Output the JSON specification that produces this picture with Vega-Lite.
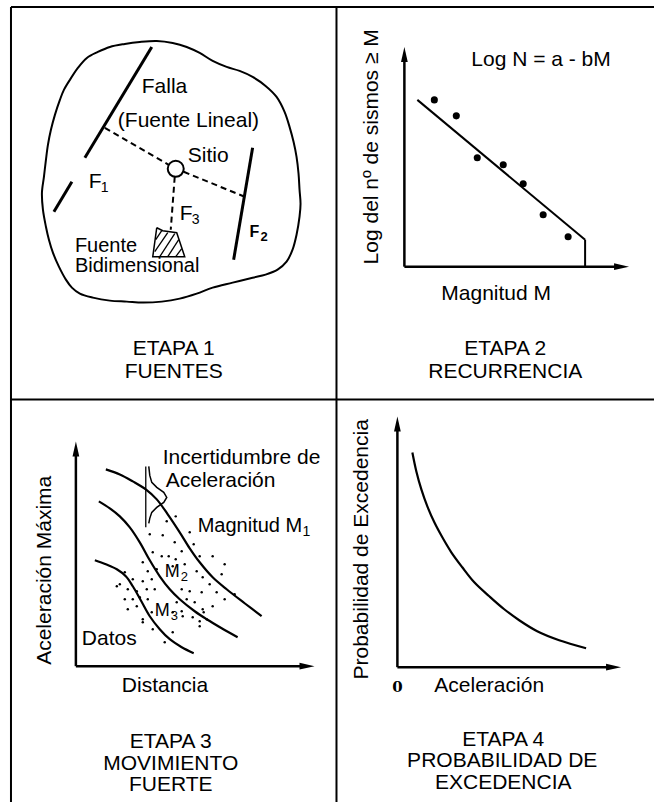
{
  "$schema": "https://vega.github.io/schema/vega-lite/v6.json",
  "width": 655,
  "height": 803,
  "autosize": {"type": "fit", "contains": "padding"},
  "padding": 0,
  "background": "white",
  "config": {"view": {"stroke": null}, "font": "Liberation Sans"},
  "datasets": {
    "frame": [
      {"x": 11, "y": 7, "x2": 655, "y2": 7},
      {"x": 11, "y": 7, "x2": 11, "y2": 803},
      {"x": 337, "y": 7, "x2": 337, "y2": 803},
      {"x": 11, "y": 400, "x2": 655, "y2": 400}
    ],
    "axes": [
      {"x": 405, "y": 267, "x2": 405, "y2": 56},
      {"x": 405, "y": 267, "x2": 621, "y2": 267},
      {"x": 76, "y": 667, "x2": 76, "y2": 451},
      {"x": 76, "y": 667, "x2": 306, "y2": 667},
      {"x": 398, "y": 668, "x2": 398, "y2": 426},
      {"x": 398, "y": 668, "x2": 613, "y2": 668}
    ],
    "faults": [
      {"x": 152, "y": 47, "x2": 85, "y2": 158},
      {"x": 72, "y": 182, "x2": 54, "y2": 212},
      {"x": 253, "y": 148, "x2": 234, "y2": 260}
    ],
    "dashes": [
      {"x": 105, "y": 128, "x2": 169, "y2": 165},
      {"x": 184, "y": 172, "x2": 245, "y2": 197},
      {"x": 175, "y": 177, "x2": 171, "y2": 230}
    ],
    "thin": [
      {"x": 156, "y": 240, "x2": 162, "y2": 231},
      {"x": 155, "y": 252, "x2": 168, "y2": 233},
      {"x": 160, "y": 257, "x2": 175, "y2": 234},
      {"x": 168, "y": 257, "x2": 179, "y2": 240},
      {"x": 176, "y": 257, "x2": 182, "y2": 249},
      {"x": 146, "y": 467, "x2": 146, "y2": 528}
    ],
    "fit": [
      {"x": 418, "y": 100, "x2": 586, "y2": 240},
      {"x": 586, "y": 240, "x2": 586, "y2": 267}
    ],
    "blob": [
      {"i": 0, "x": 70, "y": 80}, {"i": 1, "x": 78, "y": 68}, {"i": 2, "x": 87, "y": 58},
      {"i": 3, "x": 98, "y": 52}, {"i": 4, "x": 110, "y": 47}, {"i": 5, "x": 125, "y": 44},
      {"i": 6, "x": 140, "y": 42}, {"i": 7, "x": 157, "y": 41}, {"i": 8, "x": 173, "y": 43},
      {"i": 9, "x": 187, "y": 47}, {"i": 10, "x": 200, "y": 53}, {"i": 11, "x": 213, "y": 61},
      {"i": 12, "x": 227, "y": 67}, {"i": 13, "x": 240, "y": 71}, {"i": 14, "x": 253, "y": 77},
      {"i": 15, "x": 266, "y": 86}, {"i": 16, "x": 277, "y": 97}, {"i": 17, "x": 285, "y": 112},
      {"i": 18, "x": 290, "y": 127}, {"i": 19, "x": 294, "y": 142}, {"i": 20, "x": 297, "y": 157},
      {"i": 21, "x": 299, "y": 174}, {"i": 22, "x": 300, "y": 190}, {"i": 23, "x": 301, "y": 204},
      {"i": 24, "x": 300, "y": 217}, {"i": 25, "x": 297, "y": 235}, {"i": 26, "x": 293, "y": 250},
      {"i": 27, "x": 287, "y": 262}, {"i": 28, "x": 278, "y": 270}, {"i": 29, "x": 266, "y": 275},
      {"i": 30, "x": 253, "y": 278}, {"i": 31, "x": 233, "y": 283}, {"i": 32, "x": 213, "y": 288},
      {"i": 33, "x": 197, "y": 294}, {"i": 34, "x": 180, "y": 299}, {"i": 35, "x": 162, "y": 302},
      {"i": 36, "x": 143, "y": 303}, {"i": 37, "x": 127, "y": 302}, {"i": 38, "x": 110, "y": 301},
      {"i": 39, "x": 93, "y": 298}, {"i": 40, "x": 80, "y": 294}, {"i": 41, "x": 72, "y": 288},
      {"i": 42, "x": 66, "y": 280}, {"i": 43, "x": 59, "y": 267}, {"i": 44, "x": 53, "y": 253},
      {"i": 45, "x": 49, "y": 240}, {"i": 46, "x": 46, "y": 227}, {"i": 47, "x": 43, "y": 210},
      {"i": 48, "x": 42, "y": 193}, {"i": 49, "x": 44, "y": 177}, {"i": 50, "x": 46, "y": 160},
      {"i": 51, "x": 48, "y": 145}, {"i": 52, "x": 51, "y": 130}, {"i": 53, "x": 55, "y": 115},
      {"i": 54, "x": 60, "y": 100}, {"i": 55, "x": 64, "y": 90}, {"i": 56, "x": 70, "y": 80}
    ],
    "curves": [
      {"c": "M1", "i": 0, "x": 106, "y": 470}, {"c": "M1", "i": 1, "x": 120, "y": 475},
      {"c": "M1", "i": 2, "x": 133, "y": 482}, {"c": "M1", "i": 3, "x": 146, "y": 490},
      {"c": "M1", "i": 4, "x": 157, "y": 500}, {"c": "M1", "i": 5, "x": 168, "y": 515},
      {"c": "M1", "i": 6, "x": 180, "y": 533}, {"c": "M1", "i": 7, "x": 190, "y": 549},
      {"c": "M1", "i": 8, "x": 200, "y": 563}, {"c": "M1", "i": 9, "x": 213, "y": 578},
      {"c": "M1", "i": 10, "x": 227, "y": 590}, {"c": "M1", "i": 11, "x": 245, "y": 604},
      {"c": "M1", "i": 12, "x": 262, "y": 617},
      {"c": "M2", "i": 0, "x": 99, "y": 502}, {"c": "M2", "i": 1, "x": 110, "y": 509},
      {"c": "M2", "i": 2, "x": 120, "y": 517}, {"c": "M2", "i": 3, "x": 130, "y": 528},
      {"c": "M2", "i": 4, "x": 140, "y": 543}, {"c": "M2", "i": 5, "x": 150, "y": 561},
      {"c": "M2", "i": 6, "x": 160, "y": 577}, {"c": "M2", "i": 7, "x": 170, "y": 590},
      {"c": "M2", "i": 8, "x": 180, "y": 600}, {"c": "M2", "i": 9, "x": 195, "y": 612},
      {"c": "M2", "i": 10, "x": 207, "y": 620}, {"c": "M2", "i": 11, "x": 222, "y": 629},
      {"c": "M2", "i": 12, "x": 238, "y": 638},
      {"c": "M3", "i": 0, "x": 95, "y": 561}, {"c": "M3", "i": 1, "x": 106, "y": 565},
      {"c": "M3", "i": 2, "x": 117, "y": 570}, {"c": "M3", "i": 3, "x": 126, "y": 577},
      {"c": "M3", "i": 4, "x": 133, "y": 587}, {"c": "M3", "i": 5, "x": 141, "y": 601},
      {"c": "M3", "i": 6, "x": 150, "y": 617}, {"c": "M3", "i": 7, "x": 160, "y": 630},
      {"c": "M3", "i": 8, "x": 170, "y": 640}, {"c": "M3", "i": 9, "x": 182, "y": 648},
      {"c": "M3", "i": 10, "x": 194, "y": 654},
      {"c": "P", "i": 0, "x": 413, "y": 453}, {"c": "P", "i": 1, "x": 417, "y": 472},
      {"c": "P", "i": 2, "x": 422, "y": 490}, {"c": "P", "i": 3, "x": 428, "y": 507},
      {"c": "P", "i": 4, "x": 435, "y": 523}, {"c": "P", "i": 5, "x": 443, "y": 538},
      {"c": "P", "i": 6, "x": 452, "y": 553}, {"c": "P", "i": 7, "x": 463, "y": 568},
      {"c": "P", "i": 8, "x": 475, "y": 583}, {"c": "P", "i": 9, "x": 490, "y": 597},
      {"c": "P", "i": 10, "x": 505, "y": 610}, {"c": "P", "i": 11, "x": 520, "y": 621},
      {"c": "P", "i": 12, "x": 538, "y": 632}, {"c": "P", "i": 13, "x": 560, "y": 641},
      {"c": "P", "i": 14, "x": 587, "y": 649}
    ],
    "thincurves": [
      {"c": "bell", "i": 0, "x": 149, "y": 467}, {"c": "bell", "i": 1, "x": 150, "y": 476},
      {"c": "bell", "i": 2, "x": 152, "y": 483}, {"c": "bell", "i": 3, "x": 157, "y": 488},
      {"c": "bell", "i": 4, "x": 164, "y": 493}, {"c": "bell", "i": 5, "x": 167, "y": 498},
      {"c": "bell", "i": 6, "x": 164, "y": 503}, {"c": "bell", "i": 7, "x": 157, "y": 508},
      {"c": "bell", "i": 8, "x": 152, "y": 513}, {"c": "bell", "i": 9, "x": 150, "y": 519},
      {"c": "bell", "i": 10, "x": 149, "y": 524},
      {"c": "trap", "i": 0, "x": 157, "y": 228}, {"c": "trap", "i": 1, "x": 163, "y": 231},
      {"c": "trap", "i": 2, "x": 177, "y": 233}, {"c": "trap", "i": 3, "x": 185, "y": 257},
      {"c": "trap", "i": 4, "x": 153, "y": 257}, {"c": "trap", "i": 5, "x": 157, "y": 228}
    ],
    "arrowsUp": [
      {"x": 405, "y": 54.5}, {"x": 76, "y": 449.5}, {"x": 398, "y": 424.5}
    ],
    "arrowsRight": [
      {"x": 622.5, "y": 267}, {"x": 307.5, "y": 667}, {"x": 614.5, "y": 668}
    ],
    "site": [{"x": 176, "y": 169}],
    "recurrence": [
      {"x": 435, "y": 100}, {"x": 457, "y": 116}, {"x": 478, "y": 158}, {"x": 504, "y": 165},
      {"x": 524, "y": 184}, {"x": 544, "y": 215}, {"x": 569, "y": 237}
    ],
    "scatter": [
      {"x": 176, "y": 517}, {"x": 167, "y": 522}, {"x": 190, "y": 533}, {"x": 150, "y": 535},
      {"x": 163, "y": 536}, {"x": 175, "y": 543}, {"x": 182, "y": 552}, {"x": 194, "y": 545},
      {"x": 153, "y": 553}, {"x": 162, "y": 557}, {"x": 169, "y": 557}, {"x": 176, "y": 560},
      {"x": 200, "y": 557}, {"x": 213, "y": 557}, {"x": 225, "y": 565}, {"x": 143, "y": 563},
      {"x": 148, "y": 572}, {"x": 157, "y": 570}, {"x": 173, "y": 567}, {"x": 185, "y": 565},
      {"x": 197, "y": 572}, {"x": 203, "y": 578}, {"x": 210, "y": 585}, {"x": 222, "y": 575},
      {"x": 152, "y": 580}, {"x": 143, "y": 582}, {"x": 125, "y": 573}, {"x": 133, "y": 580},
      {"x": 120, "y": 585}, {"x": 117, "y": 587}, {"x": 128, "y": 590}, {"x": 137, "y": 592},
      {"x": 147, "y": 590}, {"x": 155, "y": 590}, {"x": 182, "y": 590}, {"x": 190, "y": 592},
      {"x": 202, "y": 593}, {"x": 217, "y": 593}, {"x": 235, "y": 595}, {"x": 125, "y": 600},
      {"x": 133, "y": 600}, {"x": 140, "y": 598}, {"x": 148, "y": 600}, {"x": 177, "y": 603},
      {"x": 187, "y": 600}, {"x": 195, "y": 603}, {"x": 203, "y": 610}, {"x": 213, "y": 607},
      {"x": 225, "y": 600}, {"x": 128, "y": 610}, {"x": 137, "y": 607}, {"x": 143, "y": 620},
      {"x": 152, "y": 613}, {"x": 173, "y": 613}, {"x": 183, "y": 617}, {"x": 193, "y": 618},
      {"x": 200, "y": 622}, {"x": 207, "y": 620}, {"x": 143, "y": 623}, {"x": 153, "y": 630},
      {"x": 173, "y": 633}, {"x": 165, "y": 643}, {"x": 200, "y": 627}, {"x": 182, "y": 612},
      {"x": 204, "y": 613}
    ],
    "labels": [
      {"x": 142, "y": 93, "t": "Falla"},
      {"x": 118, "y": 127, "t": "(Fuente Lineal)"},
      {"x": 188, "y": 162, "t": "Sitio"},
      {"x": 89, "y": 188, "t": "F"},
      {"x": 180, "y": 220, "t": "F"},
      {"x": 472, "y": 66, "t": "Log N = a - bM"},
      {"x": 442, "y": 300, "t": "Magnitud M"},
      {"x": 163, "y": 465, "t": "Incertidumbre de"},
      {"x": 166, "y": 488, "t": "Aceleración"},
      {"x": 82, "y": 646, "t": "Datos"},
      {"x": 122, "y": 693, "t": "Distancia"},
      {"x": 435, "y": 693, "t": "Aceleración"}
    ],
    "labelsSmall": [
      {"x": 198, "y": 533, "t": "Magnitud M"},
      {"x": 75, "y": 252, "t": "Fuente"},
      {"x": 75, "y": 272, "t": "Bidimensional"}
    ],
    "subs": [
      {"x": 101, "y": 192, "t": "1"},
      {"x": 192, "y": 224, "t": "3"},
      {"x": 303, "y": 537, "t": "1"}
    ],
    "mlabels": [
      {"x": 165, "y": 578, "t": "M"},
      {"x": 155, "y": 617, "t": "M"}
    ],
    "msubs": [
      {"x": 181, "y": 582, "t": "2"},
      {"x": 171, "y": 621, "t": "3"}
    ],
    "f2": [{"x": 250, "y": 237, "t": "F"}],
    "f2sub": [{"x": 261, "y": 241, "t": "2"}],
    "zero": [{"x": 398, "y": 693, "t": "0"}],
    "titles": [
      {"x": 174, "y": 355, "t": "ETAPA 1"},
      {"x": 174, "y": 378, "t": "FUENTES"},
      {"x": 506, "y": 355, "t": "ETAPA 2"},
      {"x": 506, "y": 378, "t": "RECURRENCIA"},
      {"x": 171, "y": 749, "t": "ETAPA 3"},
      {"x": 171, "y": 771, "t": "MOVIMIENTO"},
      {"x": 171, "y": 792, "t": "FUERTE"},
      {"x": 504, "y": 747, "t": "ETAPA 4"},
      {"x": 503, "y": 768, "t": "PROBABILIDAD DE"},
      {"x": 504, "y": 790, "t": "EXCEDENCIA"}
    ],
    "vlabels": [
      {"x": 379, "y": 147, "t": "Log del nº de sismos ≥ M"},
      {"x": 51, "y": 571, "t": "Aceleración Máxima"},
      {"x": 369, "y": 550, "t": "Probabilidad de Excedencia"}
    ]
  },
  "encoding": {
    "x": {"field": "x", "type": "quantitative", "scale": {"domain": [0, 655], "nice": false, "zero": false}, "axis": null},
    "y": {"field": "y", "type": "quantitative", "scale": {"domain": [0, 803], "nice": false, "zero": false, "reverse": true}, "axis": null}
  },
  "layer": [
    {"data": {"name": "frame"}, "mark": {"type": "rule", "color": "black", "strokeWidth": 2},
     "encoding": {"x2": {"field": "x2"}, "y2": {"field": "y2"}}},
    {"data": {"name": "axes"}, "mark": {"type": "rule", "color": "black", "strokeWidth": 2.5},
     "encoding": {"x2": {"field": "x2"}, "y2": {"field": "y2"}}},
    {"data": {"name": "faults"}, "mark": {"type": "rule", "color": "black", "strokeWidth": 3},
     "encoding": {"x2": {"field": "x2"}, "y2": {"field": "y2"}}},
    {"data": {"name": "dashes"}, "mark": {"type": "rule", "color": "black", "strokeWidth": 2, "strokeDash": [6, 4]},
     "encoding": {"x2": {"field": "x2"}, "y2": {"field": "y2"}}},
    {"data": {"name": "thin"}, "mark": {"type": "rule", "color": "black", "strokeWidth": 1.3},
     "encoding": {"x2": {"field": "x2"}, "y2": {"field": "y2"}}},
    {"data": {"name": "fit"}, "mark": {"type": "rule", "color": "black", "strokeWidth": 2},
     "encoding": {"x2": {"field": "x2"}, "y2": {"field": "y2"}}},
    {"data": {"name": "blob"}, "mark": {"type": "line", "color": "black", "strokeWidth": 2, "interpolate": "catmull-rom"},
     "encoding": {"order": {"field": "i", "type": "quantitative"}}},
    {"data": {"name": "curves"}, "mark": {"type": "line", "color": "black", "strokeWidth": 2.2, "interpolate": "catmull-rom"},
     "encoding": {"order": {"field": "i", "type": "quantitative"}, "detail": {"field": "c", "type": "nominal"}}},
    {"data": {"name": "thincurves"}, "mark": {"type": "line", "color": "black", "strokeWidth": 1.5, "interpolate": "linear"},
     "encoding": {"order": {"field": "i", "type": "quantitative"}, "detail": {"field": "c", "type": "nominal"}}},
    {"data": {"name": "arrowsUp"}, "mark": {"type": "point", "filled": true, "color": "black", "opacity": 1, "size": 225, "shape": "M0,-1L0.45,1L-0.45,1Z"}},
    {"data": {"name": "arrowsRight"}, "mark": {"type": "point", "filled": true, "color": "black", "opacity": 1, "size": 225, "shape": "M1,0L-1,0.45L-1,-0.45Z"}},
    {"data": {"name": "site"}, "mark": {"type": "point", "shape": "circle", "filled": false, "color": "black", "opacity": 1, "strokeWidth": 2, "size": 256}},
    {"data": {"name": "recurrence"}, "mark": {"type": "point", "shape": "circle", "filled": true, "color": "black", "opacity": 1, "size": 50}},
    {"data": {"name": "scatter"}, "mark": {"type": "point", "shape": "circle", "filled": true, "color": "black", "opacity": 1, "size": 6}},
    {"data": {"name": "labels"}, "mark": {"type": "text", "align": "left", "baseline": "alphabetic", "fontSize": 21, "color": "black"},
     "encoding": {"text": {"field": "t"}}},
    {"data": {"name": "labelsSmall"}, "mark": {"type": "text", "align": "left", "baseline": "alphabetic", "fontSize": 20, "color": "black"},
     "encoding": {"text": {"field": "t"}}},
    {"data": {"name": "subs"}, "mark": {"type": "text", "align": "left", "baseline": "alphabetic", "fontSize": 14, "color": "black"},
     "encoding": {"text": {"field": "t"}}},
    {"data": {"name": "mlabels"}, "mark": {"type": "text", "align": "left", "baseline": "alphabetic", "fontSize": 18, "color": "black"},
     "encoding": {"text": {"field": "t"}}},
    {"data": {"name": "msubs"}, "mark": {"type": "text", "align": "left", "baseline": "alphabetic", "fontSize": 13, "color": "black"},
     "encoding": {"text": {"field": "t"}}},
    {"data": {"name": "f2"}, "mark": {"type": "text", "align": "left", "baseline": "alphabetic", "fontSize": 16, "fontWeight": "bold", "color": "black"},
     "encoding": {"text": {"field": "t"}}},
    {"data": {"name": "f2sub"}, "mark": {"type": "text", "align": "left", "baseline": "alphabetic", "fontSize": 13, "fontWeight": "bold", "color": "black"},
     "encoding": {"text": {"field": "t"}}},
    {"data": {"name": "zero"}, "mark": {"type": "text", "align": "center", "baseline": "alphabetic", "fontSize": 15, "fontWeight": "bold", "font": "DejaVu Serif", "color": "black"},
     "encoding": {"text": {"field": "t"}}},
    {"data": {"name": "titles"}, "mark": {"type": "text", "align": "center", "baseline": "alphabetic", "fontSize": 21, "color": "black"},
     "encoding": {"text": {"field": "t"}}},
    {"data": {"name": "vlabels"}, "mark": {"type": "text", "align": "center", "baseline": "alphabetic", "angle": 270, "fontSize": 21, "color": "black"},
     "encoding": {"text": {"field": "t"}}}
  ]
}
